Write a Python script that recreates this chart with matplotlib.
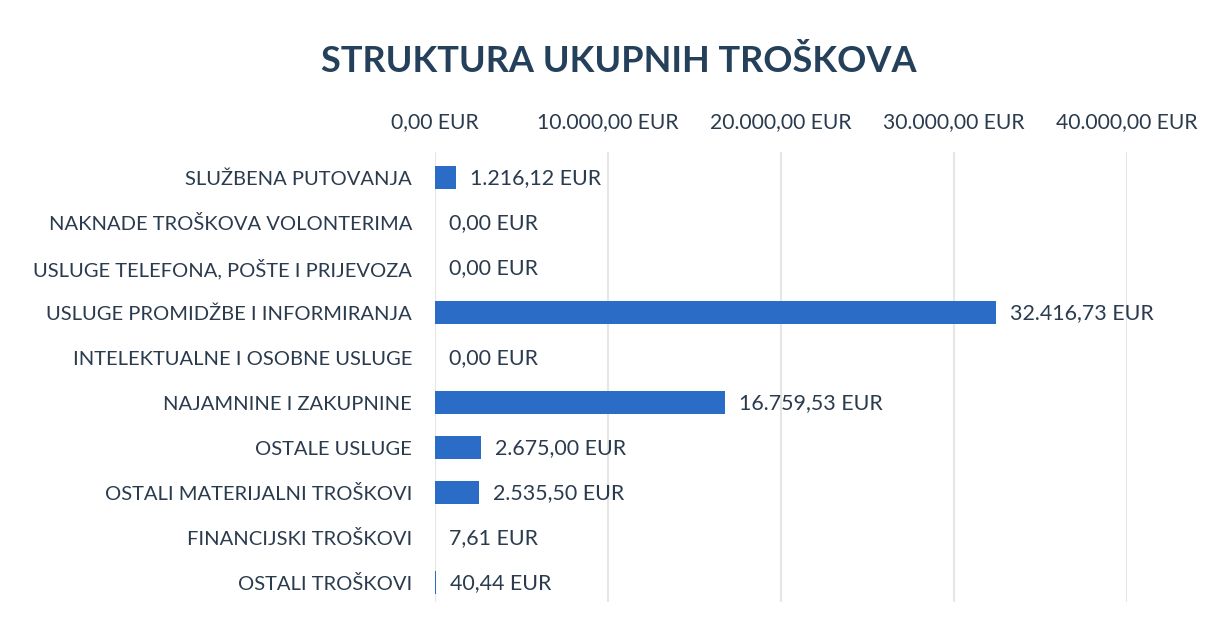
import matplotlib.pyplot as plt
from matplotlib.ticker import FuncFormatter

# Data
categories = [
    'SLUŽBENA PUTOVANJA',
    'NAKNADE TROŠKOVA VOLONTERIMA',
    'USLUGE TELEFONA, POŠTE I PRIJEVOZA',
    'USLUGE PROMIDŽBE I INFORMIRANJA',
    'INTELEKTUALNE I OSOBNE USLUGE',
    'NAJAMNINE I ZAKUPNINE',
    'OSTALE USLUGE',
    'OSTALI MATERIJALNI TROŠKOVI',
    'FINANCIJSKI TROŠKOVI',
    'OSTALI TROŠKOVI',
]
values = [1216.12, 0.00, 0.00, 32416.73, 0.00, 16759.53, 2675.00, 2535.50, 7.61, 40.44]
x_ticks = [0, 10000, 20000, 30000, 40000]


def eur(v):
    # Croatian number format: 1.234,56 EUR
    s = f'{v:,.2f}'.replace(',', 'X').replace('.', ',').replace('X', '.')
    return s + ' EUR'


plt.rcParams['font.family'] = ['Lato', 'DejaVu Sans']

text_col = '#2b3b4e'
bar_col = '#2b6cc6'

fig = plt.figure(figsize=(12.17, 6.28), dpi=100)
ax = fig.add_axes([0.3574, 0.0414, 0.926 - 0.3574, 0.758 - 0.0414])

y = list(range(len(categories)))
ax.barh(y, values, height=0.5, color=bar_col, zorder=3)

ax.set_ylim(len(categories) - 0.57, -0.57)
ax.set_xlim(0, 40000)
ax.set_yticks(y)
ax.set_yticklabels(categories, fontsize=14.5, color=text_col)

ax.set_xticks(x_ticks)
ax.xaxis.set_major_formatter(FuncFormatter(lambda v, p: eur(v)))
ax.xaxis.tick_top()
ax.tick_params(axis='x', labelsize=15.2, labelcolor=text_col, length=0, pad=14)
ax.tick_params(axis='y', length=0, pad=16.5)

ax.grid(axis='x', color='#e6e6e6', linewidth=1.5, zorder=0)
for s in ax.spines.values():
    s.set_visible(False)

# value labels at bar ends
for i, v in enumerate(values):
    ax.annotate(eur(v), (v, i), xytext=(10, 0), textcoords='offset points',
                va='center', ha='left', fontsize=15.4, color=text_col)

fig.text(619 / 1217, 1 - 61 / 628, 'STRUKTURA UKUPNIH TROŠKOVA', ha='center', va='center',
         fontsize=26, fontweight='bold', color='#24405a')

fig.savefig('out.png', dpi=100, facecolor='white')
